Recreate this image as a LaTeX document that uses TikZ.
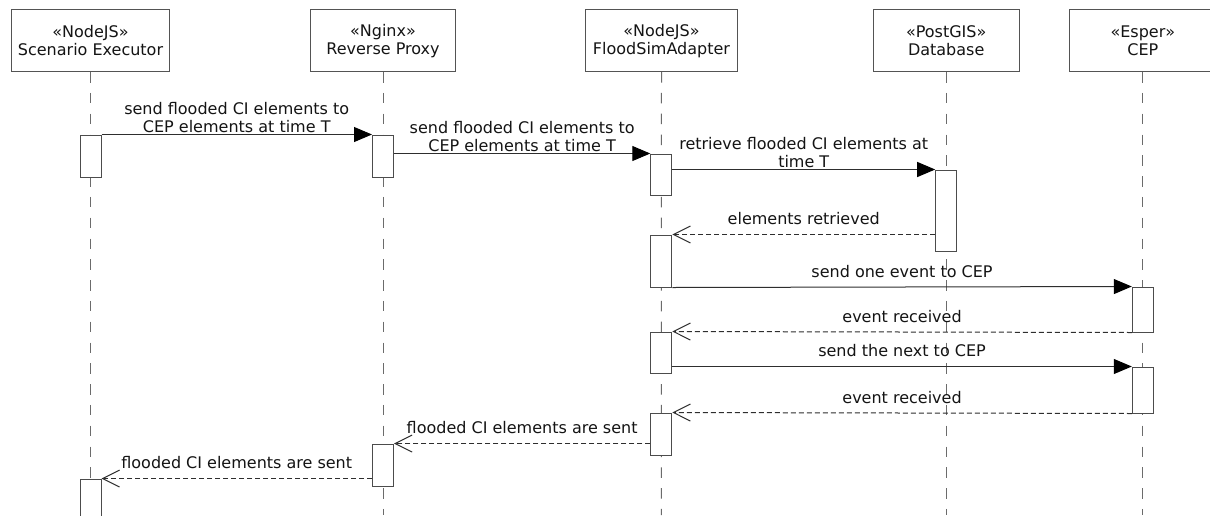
\documentclass[tikz,border=0pt]{standalone}
\usepackage{fontspec}
\setmainfont{DejaVu Sans}
\usetikzlibrary{arrows.meta}

\definecolor{headgray}{gray}{0.33}
\definecolor{bargray}{gray}{0.3}
\definecolor{lifegray}{gray}{0.42}
\definecolor{msgcol}{gray}{0.18}

\begin{document}
\begin{tikzpicture}[x=1pt,y=-1pt,
  every node/.style={font=\fontsize{16}{18}\selectfont, text=black!92},
  head/.style={draw=headgray, line width=1pt, align=center, minimum height=62pt, inner sep=0pt},
  bar/.style={draw=bargray, fill=white, line width=1pt, minimum width=21pt, inner sep=0pt},
  life/.style={draw=lifegray, line width=1pt, dash pattern=on 10.5pt off 10.3pt},
  call/.style={draw=msgcol, line width=1pt, -{Triangle[length=18pt,width=15pt,color=black,fill=black]}},
  reply/.style={draw=msgcol, line width=1pt, dash pattern=on 5pt off 3pt,
                -{Straight Barb[length=17pt,width=17pt,line width=1pt]}},
  lbl/.style={anchor=base, inner sep=0pt},
  one/.style={lbl, yshift=10pt},
  two/.style={lbl, yshift=2.5pt}
]
\fill[white] (0,0) rectangle (1210,515);
\useasboundingbox (0,0) rectangle (1210,515);

% participants
\node[head, minimum width=158.5pt] (hse) at (90.5,40.6) {«NodeJS»\\Scenario Executor};
\node[head, minimum width=145.7pt] (hrp) at (383,40.6) {«Nginx»\\Reverse Proxy};
\node[head, minimum width=152.6pt] (hfs) at (661.5,40.6) {«NodeJS»\\FloodSimAdapter};
\node[head, minimum width=145.7pt] (hdb) at (946.2,40.6) {«PostGIS»\\Database};
\node[head, minimum width=145.7pt] (hce) at (1142.8,40.6) {«Esper»\\CEP};

% lifeline ends
\coordinate (ese) at (90.5,515);
\coordinate (erp) at (383,515);
\coordinate (efs) at (661.3,515);
\coordinate (edb) at (946.2,515);
\coordinate (ece) at (1142.8,515);

\draw[life] (hse.south) -- (ese);
\draw[life] (hrp.south) -- (erp);
\draw[life] (hfs.south) -- (efs);
\draw[life] (hdb.south) -- (edb);
\draw[life] (hce.south) -- (ece);

% activations
\node[bar, minimum height=42pt] (se1) at (90.5,156) {};
\node[bar, minimum height=42pt] (rp1) at (383,156) {};
\node[bar, minimum height=41pt] (fs1) at (661.3,174.5) {};
\node[bar, minimum height=81pt] (db1) at (946.2,210.5) {};
\node[bar, minimum height=52pt] (fs2) at (661.3,261) {};
\node[bar, minimum height=45pt] (ce1) at (1142.8,309.5) {};
\node[bar, minimum height=41pt] (fs3) at (661.3,352.5) {};
\node[bar, minimum height=46pt] (ce2) at (1142.8,390) {};
\node[bar, minimum height=42pt] (fs4) at (661.3,434) {};
\node[bar, minimum height=42pt] (rp2) at (383,465) {};
\node[bar, minimum height=52pt] (se2) at (90.5,505) {};

% messages
\draw[call] (se1.north east) -- node[two]
  {\begin{tabular}[b]{@{}c@{}}send flooded CI elements to\\CEP elements at time T\end{tabular}}
  (rp1.north west);
\draw[call] (rp1.east |- fs1.north) -- node[two]
  {\begin{tabular}[b]{@{}c@{}}send flooded CI elements to\\CEP elements at time T\end{tabular}}
  (fs1.north west);
\draw[call] (fs1.east |- db1.north) -- node[two]
  {\begin{tabular}[b]{@{}c@{}}retrieve flooded CI elements at\\time T\end{tabular}}
  (db1.north west);
\draw[reply] (db1.west |- fs2.north) -- node[one] {elements retrieved} (fs2.north east);
\draw[call] (fs2.south east) -- node[one] {send one event to CEP} (ce1.north west);
\draw[reply] (ce1.south west) -- node[one] {event received} (fs3.north east);
\draw[call] (fs3.east |- ce2.north) -- node[one] {send the next to CEP} (ce2.north west);
\draw[reply] (ce2.south west) -- node[one] {event received} (fs4.north east);
\draw[reply] (fs4.west |- rp2.north) -- node[one] {flooded CI elements are sent} (rp2.north east);
\draw[reply] (rp2.west |- se2.north) -- node[one] {flooded CI elements are sent} (se2.north east);
\end{tikzpicture}
\end{document}
